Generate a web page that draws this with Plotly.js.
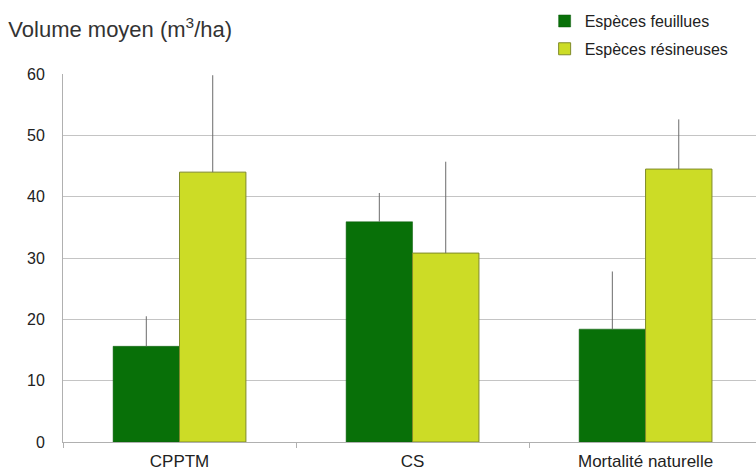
<!DOCTYPE html>
<html>
<head>
<meta charset="utf-8">
<script src="https://cdn.plot.ly/plotly-3.0.1.min.js"></script>
<style>html,body{margin:0;padding:0;background:#fff;}#chart{width:756px;height:473px;}</style>
</head>
<body>
<div id="chart"></div>
<script>
var categories = ["CPPTM", "CS", "Mortalité naturelle"];
var feuillusValues = [15.6, 35.9, 18.4];
var feuillusErrPlus = [4.9, 4.7, 9.4];
var resineuxValues = [44.0, 30.8, 44.5];
var resineuxErrPlus = [15.8, 14.9, 8.1];
var zeros = [0, 0, 0];

var traces = [
  {
    type: "bar", name: "Espèces feuillues", legendgroup: "a", x: categories, y: feuillusValues,
    marker: {color: "#087008", line: {color: "#0a5a0a", width: 0.5}},
    error_y: {type: "data", symmetric: false, array: feuillusErrPlus, arrayminus: zeros, color: "#6b6b6b", thickness: 1, width: 0}
  },
  {
    type: "bar", name: "Espèces résineuses", legendgroup: "b", x: categories, y: resineuxValues,
    marker: {color: "#ccdc26", line: {color: "#7f8a2a", width: 1}},
    error_y: {type: "data", symmetric: false, array: resineuxErrPlus, arrayminus: zeros, color: "#6b6b6b", thickness: 1, width: 0}
  }
];

var layout = {
  width: 756, height: 473,
  margin: {l: 63, r: 0, t: 74, b: 31},
  paper_bgcolor: "#fff", plot_bgcolor: "#fff",
  font: {family: "Liberation Sans, Arial, sans-serif", color: "#222", size: 16},
  title: {text: "Volume moyen (m<sup>3</sup>/ha)", xref: "container", yref: "container", x: 0.011, xanchor: "left", y: 0.937, yanchor: "middle", font: {size: 22, color: "#333"}},
  barmode: "group", bargap: 0.43, bargroupgap: 0,
  showlegend: true,
  legend: {x: 0.695, y: 1.19, xanchor: "left", yanchor: "top", font: {size: 16, color: "#222"}, traceorder: "grouped", tracegroupgap: 4, itemwidth: 30, bgcolor: "rgba(0,0,0,0)"},
  xaxis: {
    type: "category", range: [-0.5, 2.474], showgrid: false, zeroline: false,
    showline: true, linecolor: "#b0b0b0", linewidth: 1,
    ticks: "outside", tickson: "boundaries", ticklen: 5, tickcolor: "#b0b0b0",
    ticklabelstandoff: 4,
    tickfont: {size: 17, color: "#222"}
  },
  yaxis: {
    range: [0, 60], dtick: 10, showgrid: true, gridcolor: "#c4c4c4", gridwidth: 1,
    zeroline: false, showline: true, linecolor: "#b0b0b0", linewidth: 1,
    ticks: "", ticklabelstandoff: 14,
    tickfont: {size: 16, color: "#222"}
  }
};

Plotly.newPlot("chart", traces, layout, {displayModeBar: false, staticPlot: true});
</script>
</body>
</html>
